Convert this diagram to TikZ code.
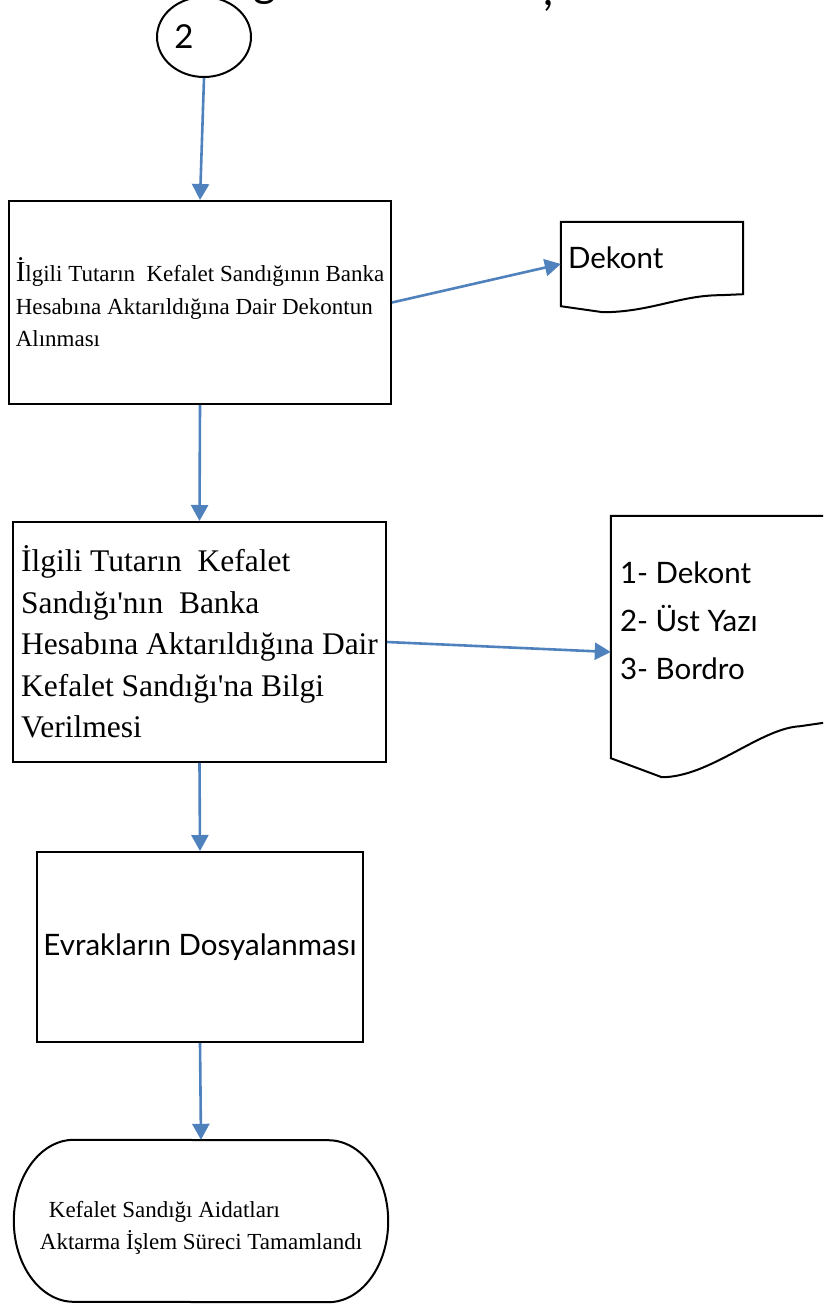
\documentclass[tikz,border=0pt]{standalone}
\usepackage{fontspec}
\setmainfont{Liberation Serif}[Ligatures=TeXOff]
\newfontfamily\gillsans{Lato}
\usepackage{tikz}
\usetikzlibrary{calc,positioning,arrows.meta,shapes.geometric}
\definecolor{akismavi}{RGB}{79,129,189}

\begin{document}
\begin{tikzpicture}[x=1pt,y=-1pt,
		kutu/.style={draw,line width=2pt,align=left,inner sep=0pt},
		belge/.style={inner sep=0pt},
		cizgi/.style={line width=2pt},
		kucuk/.style={font=\fontsize{23}{32.5}\selectfont},
		iri/.style={font=\fontsize{31.5}{41.5}\selectfont},
		sans/.style={font=\gillsans\fontsize{29.5}{48}\selectfont,inner sep=0pt},
		ok/.style={akismavi,line width=2.6pt,-{Triangle[length=16pt,width=17pt]}}]
	\useasboundingbox (0,0) rectangle (823,1306);
	\clip (0,0) rectangle (823,1306);
	% kesik baslik
	\node[font=\gillsans\fontsize{44}{44}\selectfont,anchor=base,inner sep=0pt] (bas1) at (265,-3) {g};
	\node[font=\gillsans\fontsize{44}{44}\selectfont,anchor=base,inner sep=0pt] (bas2) at (548,6) {,};
	% baglanti
	\node[draw,ellipse,cizgi,minimum width=94,minimum height=80] (konn) at (204,37) {};
	\node[sans,font=\gillsans\fontsize{33}{33}\selectfont] (iki) at ($(konn.center)+(-20,0)$) {2};
	% adimlar
	\node[kutu,kucuk,minimum width=382,minimum height=203] (alim) at (200,302.5)
		{{\fontsize{29}{29}\selectfont İ}lgili Tutarın~ Kefalet Sandığının Banka\\Hesabına Aktarıldığına Dair Dekontun\\Alınması};
	\node[kutu,iri,minimum width=373,minimum height=240] (bilgi) at (199.5,642)
		{İlgili Tutarın~ Kefalet\\Sandığı'nın~ Banka\\Hesabına Aktarıldığına Dair\\Kefalet Sandığı'na Bilgi\\Verilmesi};
	\node[kutu,sans,minimum width=326,minimum height=190] (dosya) at (200,947) {Evrakların Dosyalanması};
	\node[belge,minimum width=374,minimum height=162] (son) at (201,1221) {};
	\draw[cizgi] ($(son.north west)+(60,0)$) arc[start angle=90,end angle=270,x radius=60pt,y radius=81pt]
		-- ($(son.south east)+(-60,0)$) arc[start angle=-90,end angle=90,x radius=60pt,y radius=81pt] -- cycle;
	\node[kucuk,align=left,inner sep=0pt] (sonyazi) at ($(son.center)+(0,7)$)
		{\hspace{9pt}Kefalet Sandığı Aidatları\\Aktarma İşlem Süreci Tamamlandı};
	% belgeler
	\node[belge,minimum width=182,minimum height=84] (dekont) at (652,264) {};
	\draw[cizgi] (dekont.south west) -- (dekont.north west) -- (dekont.north east) -- ($(dekont.south east)+(0,-12)$)
		-- ($(dekont.south east)+(-23,-11)$) .. controls ($(dekont.south east)+(-63,-11)$) and ($(dekont.south west)+(89,6)$) .. ($(dekont.south west)+(42,6)$) -- cycle;
	\node[sans,right=7pt of dekont.west,yshift=6pt] (dekyazi) {Dekont};
	\node[belge,minimum width=230,minimum height=242] (evrak) at (726,637) {};
	\draw[cizgi] (evrak.south west) -- (evrak.north west) -- (evrak.north east) -- ($(evrak.south east)+(0,-38)$)
		-- ($(evrak.south east)+(-41,-32)$) .. controls ($(evrak.south east)+(-81,-30)$) and ($(evrak.south west)+(99,19)$) .. ($(evrak.south west)+(51,19)$) -- cycle;
	\node[sans,align=left,anchor=west] (liste) at ($(evrak.west)+(9,-16)$) {1- Dekont\\2- Üst Yazı\\3- Bordro};
	% oklar
	\draw[ok] (konn.south) -- (alim.north);
	\draw[ok] (alim.east) -- (dekont.west);
	\draw[ok] (alim.south) -- (bilgi.north);
	\draw[ok] (bilgi.east) -- ($(evrak.west)+(0,15)$);
	\draw[ok] (bilgi.south) -- (dosya.north);
	\draw[ok] (dosya.south) -- (son.north);
\end{tikzpicture}
\end{document}
